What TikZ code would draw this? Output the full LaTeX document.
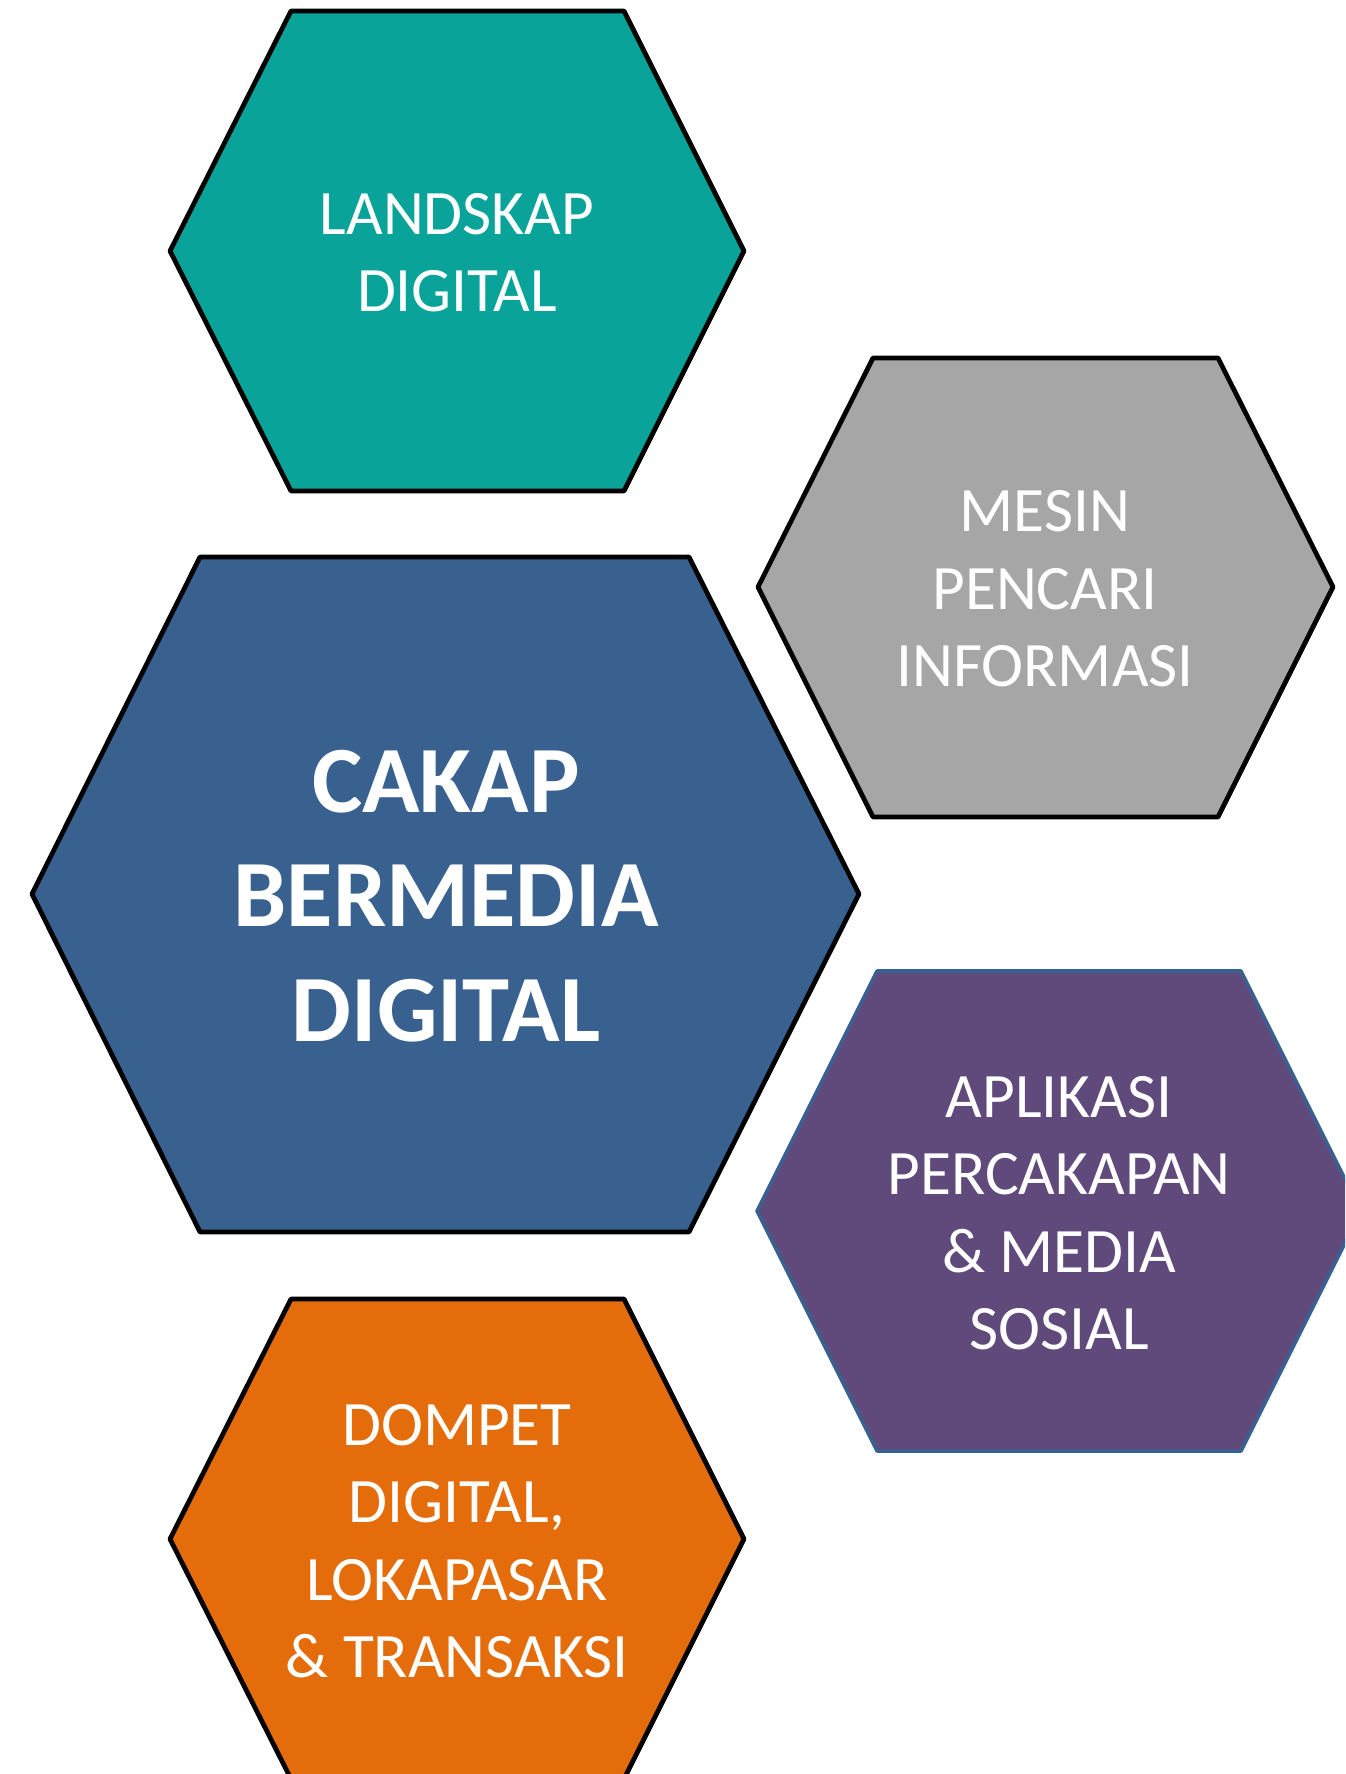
\documentclass[tikz,border=0pt]{standalone}
\usepackage{fontspec}
\setmainfont{Carlito}
\definecolor{hexteal}{HTML}{0AA399}
\definecolor{hexgray}{HTML}{A6A6A6}
\definecolor{hexblue}{HTML}{386190}
\definecolor{hexpurple}{HTML}{604A7B}
\definecolor{hexorange}{HTML}{E46C0A}
\begin{document}
\begin{tikzpicture}[x=0.01cm,y=-0.01cm,line join=round,
  hexline/.style={draw=black,line width=1.35pt},
  hexlabel/.style={text=white,align=center,font=\fontsize{18}{22}\selectfont},
  mainlabel/.style={text=white,align=center,font=\fontsize{27}{32.5}\selectfont\bfseries}]
\useasboundingbox (0,0) rectangle (1345,1774);
\clip (0,0) rectangle (1345,1774);
% top left
\draw[hexline,fill=hexteal] (291,11)--(624,11)--(744,251)--(624,491)--(291,491)--(170,251)--cycle;
\node[hexlabel] (landskap) at (457,253) {LANDSKAP\\DIGITAL};
% right, upper
\draw[hexline,fill=hexgray] (873,358)--(1218,358)--(1333,587)--(1218,817)--(873,817)--(758,587)--cycle;
\node[hexlabel] (mesin) at (1045,589) {MESIN\\PENCARI\\INFORMASI};
% centre
\draw[hexline,fill=hexblue] (200,557)--(689,557)--(859,894)--(689,1232)--(200,1232)--(32,894)--cycle;
\node[mainlabel] (cakap) at (446,896) {CAKAP\\BERMEDIA\\DIGITAL};
% right, lower
\draw[draw=hexblue,line width=1pt,fill=hexpurple] (877,971)--(1241,971)--(1361,1211)--(1241,1451)--(877,1451)--(757,1211)--cycle;
\node[hexlabel] (aplikasi) at (1059,1213) {APLIKASI\\PERCAKAPAN\\\&~MEDIA\\SOSIAL};
% bottom left
\draw[hexline,fill=hexorange] (291,1299)--(624,1299)--(744,1539)--(624,1779)--(291,1779)--(170,1539)--cycle;
\node[hexlabel] (dompet) at (457,1541) {DOMPET\\DIGITAL,\\LOKAPASAR\\\&~TRANSAKSI};
\end{tikzpicture}
\end{document}
